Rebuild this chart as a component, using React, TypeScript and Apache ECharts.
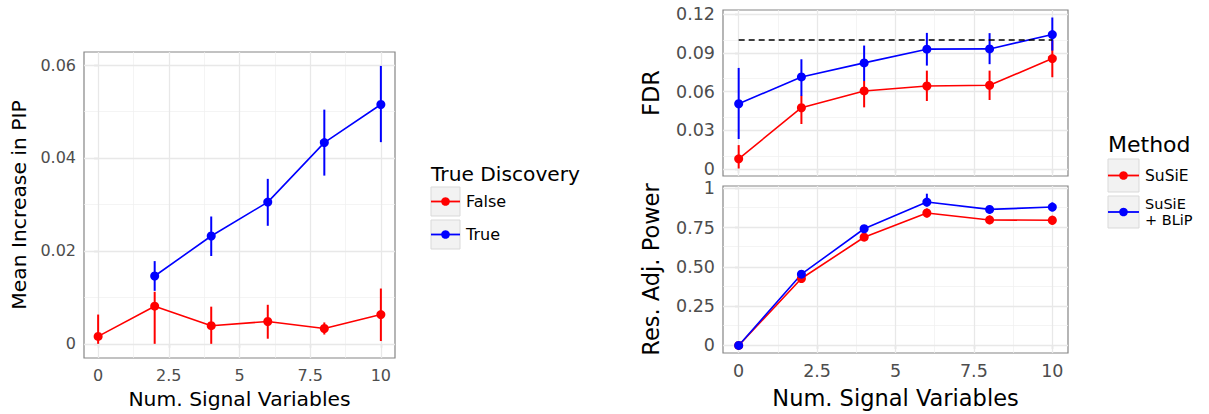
import React, { useEffect, useRef } from "react";
import * as echarts from "echarts";

// ---------- data ----------
const signalVars = [0, 2, 4, 6, 8, 10];
const signalVarsTrue = [2, 4, 6, 8, 10];

// Left panel: Mean Increase in PIP
const pipFalse = [0.0016, 0.0081, 0.0039, 0.0048, 0.0033, 0.0063];
const pipFalseLo = [0.0, 0.0, 0.0, 0.0011, 0.002, 0.0006];
const pipFalseHi = [0.0063, 0.0112, 0.008, 0.0084, 0.0046, 0.0119];
const pipTrue = [0.0146, 0.0232, 0.0305, 0.0433, 0.0515];
const pipTrueLo = [0.0114, 0.0189, 0.0254, 0.0362, 0.0434];
const pipTrueHi = [0.0178, 0.0274, 0.0355, 0.0504, 0.0598];

// Right top: FDR
const fdrSusie = [0.008, 0.0475, 0.0605, 0.0643, 0.0649, 0.0855];
const fdrSusieLo = [0.0005, 0.0349, 0.0478, 0.0527, 0.0535, 0.0711];
const fdrSusieHi = [0.0186, 0.0568, 0.0682, 0.0762, 0.0762, 0.0995];
const fdrBlip = [0.0506, 0.0713, 0.0822, 0.0928, 0.093, 0.1041];
const fdrBlipLo = [0.0233, 0.0566, 0.0682, 0.0801, 0.0812, 0.0917];
const fdrBlipHi = [0.0783, 0.085, 0.0956, 0.1054, 0.1052, 0.1173];
const fdrTarget = 0.1;

// Right bottom: Res. Adj. Power
const powSusie = [0, 0.426, 0.689, 0.843, 0.799, 0.797];
const powSusieLo = [0, 0.412, 0.666, 0.814, 0.772, 0.768];
const powSusieHi = [0, 0.44, 0.712, 0.872, 0.828, 0.826];
const powBlip = [0, 0.4535, 0.743, 0.913, 0.866, 0.881];
const powBlipLo = [0, 0.44, 0.72, 0.884, 0.84, 0.853];
const powBlipHi = [0, 0.467, 0.767, 0.966, 0.893, 0.91];

// ticks
const xTicks = [0, 2.5, 5, 7.5, 10];
const xTickLabels = ["0", "2.5", "5", "7.5", "10"];
const xMinor = [1.25, 3.75, 6.25, 8.75];
const pipTicks = [0, 0.02, 0.04, 0.06];
const pipTickLabels = ["0", "0.02", "0.04", "0.06"];
const pipMinor = [0.01, 0.03, 0.05];
const fdrTicks = [0, 0.03, 0.06, 0.09, 0.12];
const fdrTickLabels = ["0", "0.03", "0.06", "0.09", "0.12"];
const fdrMinor = [0.015, 0.045, 0.075, 0.105];
const powTicks = [0, 0.25, 0.5, 0.75, 1];
const powTickLabels = ["0", "0.25", "0.50", "0.75", "1"];
const powMinor = [0.125, 0.375, 0.625, 0.875];

// ---------- style ----------
const FONT = '"DejaVu Sans", "Noto Sans", sans-serif';
const RED = "#ff0000";
const BLUE = "#0000ff";
const TICK_COLOR = "#4d4d4d";
const GRID_MAJOR = "#e8e8e8";
const GRID_MINOR = "#efefef";

function labelFor(ticks: number[], labels: string[]) {
  return (v: number) => {
    const i = ticks.findIndex((t) => Math.abs(t - v) < 1e-9);
    return i >= 0 ? labels[i] : "";
  };
}

function gridLines(xMaj: number[], xMin: number[], yMaj: number[], yMin: number[]) {
  const minor = { color: GRID_MINOR, width: 0.7, type: "solid" };
  const major = { color: GRID_MAJOR, width: 1.3, type: "solid" };
  return {
    silent: true,
    z: 1,
    symbol: ["none", "none"],
    label: { show: false },
    emphasis: { disabled: true },
    animation: false,
    data: [
      ...xMin.map((v) => ({ xAxis: v, lineStyle: minor })),
      ...yMin.map((v) => ({ yAxis: v, lineStyle: minor })),
      ...xMaj.map((v) => ({ xAxis: v, lineStyle: major })),
      ...yMaj.map((v) => ({ yAxis: v, lineStyle: major })),
    ],
  };
}

function errSeries(idx: number, xs: number[], lo: number[], hi: number[], color: string, name: string) {
  return {
    type: "custom",
    name,
    xAxisIndex: idx,
    yAxisIndex: idx,
    z: 2,
    silent: true,
    encode: { x: 0, y: [1, 2] },
    data: xs.map((x, i) => [x, lo[i], hi[i]]),
    renderItem: (params: any, api: any) => {
      const p1 = api.coord([api.value(0), api.value(1)]);
      const p2 = api.coord([api.value(0), api.value(2)]);
      return {
        type: "line",
        shape: { x1: p1[0], y1: p1[1], x2: p2[0], y2: p2[1] },
        style: { stroke: color, lineWidth: 2 },
      };
    },
  };
}

function lineSeries(idx: number, xs: number[], ys: number[], color: string, name: string, extra: any = {}) {
  return {
    type: "line",
    name,
    xAxisIndex: idx,
    yAxisIndex: idx,
    z: 3,
    data: xs.map((x, i) => [x, ys[i]]),
    symbol: "circle",
    symbolSize: 9,
    showAllSymbol: true,
    lineStyle: { color, width: 1.6 },
    itemStyle: { color },
    silent: true,
    ...extra,
  };
}

function xAxisCfg(idx: number, showLabels: boolean, name: string, nameGap: number, labelSize: number, nameSize: number) {
  return {
    type: "value",
    gridIndex: idx,
    min: -0.5,
    max: 10.5,
    splitLine: { show: false },
    axisLine: { show: false },
    axisTick: { show: true, customValues: xTicks, length: 4, lineStyle: { color: "#333333", width: 1.1 } },
    axisLabel: {
      show: showLabels,
      customValues: xTicks,
      formatter: labelFor(xTicks, xTickLabels),
      color: TICK_COLOR,
      fontSize: labelSize,
      fontFamily: FONT,
      margin: 9,
    },
    name,
    nameLocation: "middle",
    nameGap,
    nameTextStyle: { color: "#000", fontSize: nameSize, fontFamily: FONT },
  };
}

function yAxisCfg(idx: number, min: number, max: number, ticks: number[], labels: string[], name: string, nameGap: number, labelSize: number, nameSize: number) {
  return {
    type: "value",
    gridIndex: idx,
    min,
    max,
    splitLine: { show: false },
    axisLine: { show: false },
    axisTick: { show: true, customValues: ticks, length: 4, lineStyle: { color: "#333333", width: 1.1 } },
    axisLabel: {
      customValues: ticks,
      formatter: labelFor(ticks, labels),
      color: TICK_COLOR,
      fontSize: labelSize,
      fontFamily: FONT,
      margin: 8,
    },
    name,
    nameLocation: "middle",
    nameGap,
    nameTextStyle: { color: "#000", fontSize: nameSize, fontFamily: FONT },
  };
}

type LegendItem = { y: number; h: number; w: number; color: string; labels: string[]; labelSize: number; lineGap?: number };

function legendGroup(x: number, titleY: number, title: string, titleSize: number, items: LegendItem[]) {
  const children: any[] = [
    {
      type: "text",
      x,
      y: titleY,
      style: { text: title, fill: "#000", font: `${titleSize}px ${FONT}`, verticalAlign: "middle", align: "left" },
    },
  ];
  items.forEach((it) => {
    const cy = it.y + it.h / 2;
    children.push({
      type: "rect",
      shape: { x, y: it.y, width: it.w, height: it.h },
      style: { fill: "#f2f2f2", stroke: "#d9d9d9", lineWidth: 1 },
    });
    children.push({
      type: "line",
      shape: { x1: x, y1: cy, x2: x + it.w, y2: cy },
      style: { stroke: it.color, lineWidth: 1.8 },
    });
    children.push({
      type: "circle",
      shape: { cx: x + it.w / 2, cy, r: 4.3 },
      style: { fill: it.color },
    });
    const gap = it.lineGap ?? 0;
    const n = it.labels.length;
    it.labels.forEach((lab, k) => {
      children.push({
        type: "text",
        x: x + it.w + 6,
        y: cy + (k - (n - 1) / 2) * gap,
        style: {
          text: lab,
          fill: "#000",
          font: `${it.labelSize}px ${FONT}`,
          verticalAlign: "middle",
          align: "left",
        },
      });
    });
  });
  return { type: "group", children };
}

export default function App() {
  const ref = useRef<HTMLDivElement>(null);
  useEffect(() => {
    if (!ref.current) return;
    const chart = echarts.init(ref.current, null, { renderer: "svg" });
    const grids = [
      { left: 84, top: 52, width: 311, height: 309 },
      { left: 723, top: 10, width: 345, height: 166 },
      { left: 723, top: 186, width: 345, height: 167 },
    ].map((g) => ({ ...g, show: true, backgroundColor: "#ffffff", borderColor: "#858585", borderWidth: 1.2, containLabel: false }));

    const option: any = {
      animation: false,
      backgroundColor: "#ffffff",
      grid: grids,
      xAxis: [
        xAxisCfg(0, true, "Num. Signal Variables", 31, 16, 20.3),
        xAxisCfg(1, false, "", 0, 17.5, 22.5),
        xAxisCfg(2, true, "Num. Signal Variables", 33, 17.5, 22.5),
      ],
      yAxis: [
        yAxisCfg(0, -0.00305, 0.0628, pipTicks, pipTickLabels, "Mean Increase in PIP", 55, 16, 20.3),
        yAxisCfg(1, -0.0053, 0.1231, fdrTicks, fdrTickLabels, "FDR", 61, 17.5, 22.5),
        yAxisCfg(2, -0.048, 1.015, powTicks, powTickLabels, "Res. Adj. Power", 61, 17.5, 22.5),
      ],
      series: [
        // left
        errSeries(0, signalVars, pipFalseLo, pipFalseHi, RED, "False err"),
        lineSeries(0, signalVars, pipFalse, RED, "False", { markLine: gridLines(xTicks, xMinor, pipTicks, pipMinor) }),
        errSeries(0, signalVarsTrue, pipTrueLo, pipTrueHi, BLUE, "True err"),
        lineSeries(0, signalVarsTrue, pipTrue, BLUE, "True"),
        // FDR
        errSeries(1, signalVars, fdrSusieLo, fdrSusieHi, RED, "SuSiE err"),
        lineSeries(1, signalVars, fdrSusie, RED, "SuSiE", { markLine: gridLines(xTicks, xMinor, fdrTicks, fdrMinor) }),
        errSeries(1, signalVars, fdrBlipLo, fdrBlipHi, BLUE, "SuSiE + BLiP err"),
        lineSeries(1, signalVars, fdrBlip, BLUE, "SuSiE + BLiP", {
          markLine: {
            silent: true,
            z: 4,
            symbol: ["none", "none"],
            label: { show: false },
            emphasis: { disabled: true },
            lineStyle: { color: "#000000", width: 1.5, type: [6, 4] },
            data: [[{ coord: [signalVars[0], fdrTarget] }, { coord: [signalVars[signalVars.length - 1], fdrTarget] }]],
          },
        }),
        // Power
        errSeries(2, signalVars, powSusieLo, powSusieHi, RED, "SuSiE err"),
        lineSeries(2, signalVars, powSusie, RED, "SuSiE", { markLine: gridLines(xTicks, xMinor, powTicks, powMinor) }),
        errSeries(2, signalVars, powBlipLo, powBlipHi, BLUE, "SuSiE + BLiP err"),
        lineSeries(2, signalVars, powBlip, BLUE, "SuSiE + BLiP"),
      ],
      graphic: [
        legendGroup(431, 174, "True Discovery", 20.2, [
          { y: 187, h: 29, w: 29, color: RED, labels: ["False"], labelSize: 16 },
          { y: 220, h: 29, w: 29, color: BLUE, labels: ["True"], labelSize: 16 },
        ]),
        legendGroup(1108, 144, "Method", 22, [
          { y: 159, h: 33, w: 31, color: RED, labels: ["SuSiE"], labelSize: 15.5 },
          { y: 196, h: 32, w: 31, color: BLUE, labels: ["SuSiE", "+ BLiP"], labelSize: 14.5, lineGap: 15.5 },
        ]),
      ],
    };
    chart.setOption(option);
    return () => chart.dispose();
  }, []);
  return <div ref={ref} style={{ position: "fixed", left: 0, top: 0, width: 1209, height: 414 }} />;
}
